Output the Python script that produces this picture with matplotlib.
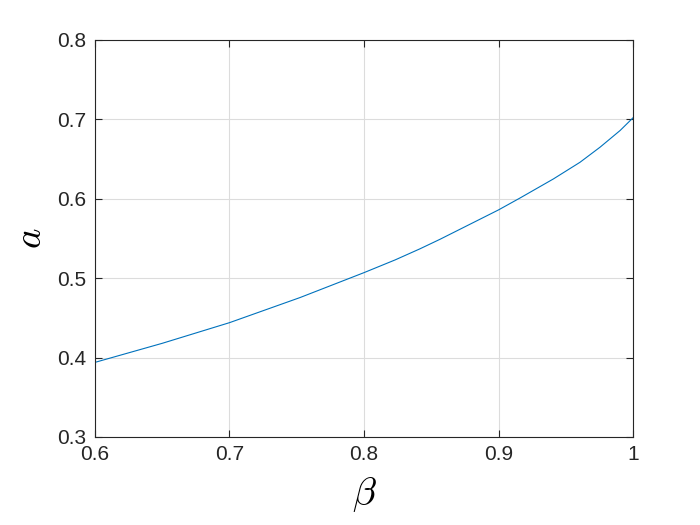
import matplotlib
matplotlib.use("Agg")
import matplotlib.pyplot as plt

# values
beta = [0.60, 0.65, 0.70, 0.7524, 0.80, 0.8231, 0.8416, 0.8565,
        0.90, 0.916, 0.9408, 0.9606, 0.9755, 0.9904, 1.00]
a_vals = [0.394, 0.418, 0.444, 0.4756, 0.507, 0.523, 0.537, 0.549,
          0.586, 0.601, 0.625, 0.646, 0.665, 0.686, 0.702]

xticks = [0.6, 0.7, 0.8, 0.9, 1.0]
xticklabels = ["0.6", "0.7", "0.8", "0.9", "1"]
yticks = [0.3, 0.4, 0.5, 0.6, 0.7, 0.8]
yticklabels = ["0.3", "0.4", "0.5", "0.6", "0.7", "0.8"]

plt.rcParams['font.family'] = ['Liberation Sans', 'DejaVu Sans']
plt.rcParams['mathtext.fontset'] = 'cm'

fig = plt.figure(figsize=(7, 5.25), dpi=100)
ax = fig.add_axes([95/700, 88/525, 538/700, 397/525])

ax.plot(beta, a_vals, color='#0072BD', linewidth=0.8)

ax.set_xlim(0.6, 1.0)
ax.set_ylim(0.3, 0.8)
ax.set_xticks(xticks)
ax.set_xticklabels(xticklabels)
ax.set_yticks(yticks)
ax.set_yticklabels(yticklabels)

ax.grid(True, color='#dcdcdc', linewidth=0.8)
ax.set_axisbelow(True)
ax.tick_params(direction='in', top=True, right=True, labelsize=15,
               colors='#262626', length=5, width=0.8, pad=6)
for s in ax.spines.values():
    s.set_color('#262626')
    s.set_linewidth(0.8)

ax.set_xlabel(r'$\beta$', fontsize=28, labelpad=8)
ax.set_ylabel(r'$a$', fontsize=28, labelpad=6)

fig.savefig('out.png', dpi=100)
